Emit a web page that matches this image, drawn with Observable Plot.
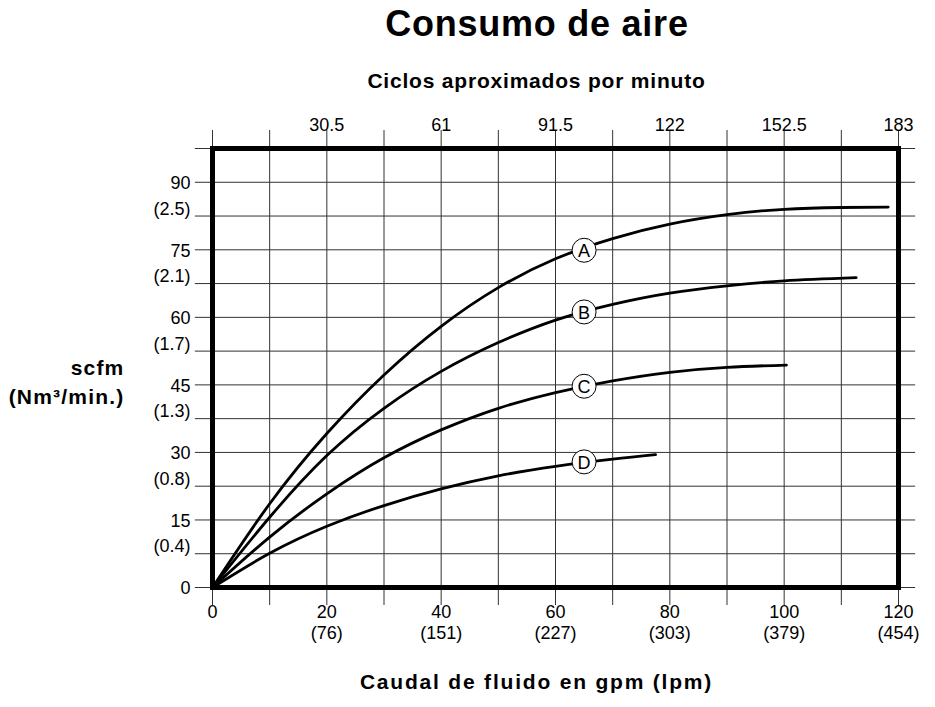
<!DOCTYPE html>
<html>
<head>
<meta charset="utf-8">
<script src="https://cdn.jsdelivr.net/npm/d3@7"></script>
<script src="https://cdn.jsdelivr.net/npm/@observablehq/plot@0.6"></script>
<style>
  html, body { margin: 0; padding: 0; background: white; }
  #title { position: relative; height: 52px; width: 935px; }
  #title div { position: absolute; left: 0; top: 6px; width: 1074px; text-align: center;
    font: bold 36px "Liberation Sans", Arial, sans-serif; line-height: 36px; letter-spacing: 0.75px; color: black; }
</style>
</head>
<body>
<div id="title"><div>Consumo de aire</div></div>
<div id="chart"></div>
<script>
// ---- Data ----
const seriesNames = ["A", "B", "C", "D"];
const gpmA  = [0, 10, 20, 30, 40, 50, 60, 70, 80, 90, 100, 110, 118.2];
const scfmA = [0, 18.6, 34.2, 47.2, 58.0, 66.6, 73.0, 77.5, 80.7, 82.8, 84.0, 84.4, 84.5];
const gpmB  = [0, 10, 20, 30, 40, 50, 60, 70, 80, 90, 100, 112.6];
const scfmB = [0, 15.6, 29.3, 39.8, 48.0, 54.4, 59.4, 62.9, 65.4, 67.0, 68.1, 68.8];
const gpmC  = [0, 10, 20, 30, 40, 50, 60, 70, 80, 90, 100.4];
const scfmC = [0, 11.2, 20.8, 28.8, 35.0, 39.8, 43.3, 45.9, 47.8, 48.9, 49.4];
const gpmD  = [0, 10, 20, 30, 40, 50, 60, 70, 77.5];
const scfmD = [0, 7.6, 13.6, 18.2, 21.9, 24.8, 26.9, 28.5, 29.5];
const labelGpm  = [65, 65, 65, 65];
const labelScfm = [74.9, 61.2, 44.7, 27.9];

// axes / ticks
const gpmTicks   = [0, 20, 40, 60, 80, 100, 120];
const lpmLabels  = ["", "(76)", "(151)", "(227)", "(303)", "(379)", "(454)"];
const cpmLabels  = ["", "30.5", "61", "91.5", "122", "152.5", "183"];
const scfmTicks  = [0, 15, 30, 45, 60, 75, 90];
const nm3Ticks   = [7.5, 22.5, 37.5, 52.5, 67.5, 82.5];
const nm3Labels  = ["(0.4)", "(0.8)", "(1.3)", "(1.7)", "(2.1)", "(2.5)"];
const gridX = [0, 10, 20, 30, 40, 50, 60, 70, 80, 90, 100, 110, 120];
const gridY = [0, 7.5, 15, 22.5, 30, 37.5, 45, 52.5, 60, 67.5, 75, 82.5, 90, 97.5];

const subtitle = "Ciclos aproximados por minuto";
const xTitle = "Caudal de fluido en gpm (lpm)";
const yTitle1 = "scfm";
const yTitle2 = "(Nm³/min.)";

// ---- build tables ----
const curveRows = [];
[[gpmA, scfmA], [gpmB, scfmB], [gpmC, scfmC], [gpmD, scfmD]].forEach(([gx, gy], k) => {
  gx.forEach((g, i) => curveRows.push({series: seriesNames[k], gpm: g, scfm: gy[i]}));
});
const labelRows = seriesNames.map((s, i) => ({series: s, gpm: labelGpm[i], scfm: labelScfm[i]}));

const font = "'Liberation Sans', Arial, sans-serif";

const svg = Plot.plot({
  width: 935,
  height: 655,
  marginLeft: 212,
  marginRight: 37,
  marginTop: 96,
  marginBottom: 120,
  x: {domain: [0, 120], axis: null},
  y: {domain: [0, 97.5], axis: null},
  style: {fontFamily: font, fontSize: "18px", background: "white", color: "black", overflow: "visible"},
  marks: [
    Plot.ruleX(gridX, {x: d => d, y1: -4, y2: 101.5, stroke: "#333", strokeWidth: 1}),
    Plot.ruleY(gridY, {y: d => d, x1: -3, x2: 123, stroke: "#333", strokeWidth: 1}),
    Plot.frame({stroke: "black", strokeWidth: 5}),
    Plot.line(curveRows, {x: "gpm", y: "scfm", z: "series", curve: "natural", stroke: "black", strokeWidth: 2.8}),
    Plot.dot(labelRows, {x: "gpm", y: "scfm", r: 12, fill: "white", stroke: "black", strokeWidth: 1}),
    Plot.text(labelRows, {x: "gpm", y: "scfm", text: "series", fontSize: 18, fill: "black", dy: 1}),
    // bottom tick labels
    Plot.text(gpmTicks, {x: d => d, text: d => String(d), frameAnchor: "bottom", dy: 30, fontSize: 18}),
    Plot.text(gpmTicks, {x: d => d, text: (d, i) => lpmLabels[i], frameAnchor: "bottom", dy: 51, fontSize: 18}),
    // top tick labels
    Plot.text(gpmTicks, {x: d => d, text: (d, i) => cpmLabels[i], frameAnchor: "top", dy: -30, fontSize: 18}),
    // left tick labels
    Plot.text(scfmTicks, {y: d => d, text: d => String(d), frameAnchor: "left", textAnchor: "end", dx: -22, dy: 1, fontSize: 18}),
    Plot.text(nm3Ticks, {y: d => d, text: (d, i) => nm3Labels[i], frameAnchor: "left", textAnchor: "end", dx: -22, dy: -7, fontSize: 18}),
    // titles
    Plot.text([subtitle], {text: d => d, frameAnchor: "top", dy: -75, dx: -19, fontSize: 21, fontWeight: "bold"}),
    Plot.text([xTitle], {text: d => d, frameAnchor: "bottom", dy: 101, dx: -19, fontSize: 21, fontWeight: "bold"}),
    Plot.text([yTitle1], {text: d => d, frameAnchor: "left", textAnchor: "end", dx: -88, dy: 0, fontSize: 21, fontWeight: "bold"}),
    Plot.text([yTitle2], {text: d => d, frameAnchor: "left", textAnchor: "end", dx: -88, dy: 29, fontSize: 21, fontWeight: "bold"})
  ]
});

const spacing = {[subtitle]: "0.8px", [xTitle]: "1.8px", [yTitle1]: "1.2px", [yTitle2]: "1.2px"};
d3.select(svg).selectAll("text").each(function() {
  const t = this.textContent;
  if (spacing[t]) this.setAttribute("letter-spacing", spacing[t]);
});
document.getElementById("chart").appendChild(svg);
</script>
</body>
</html>
